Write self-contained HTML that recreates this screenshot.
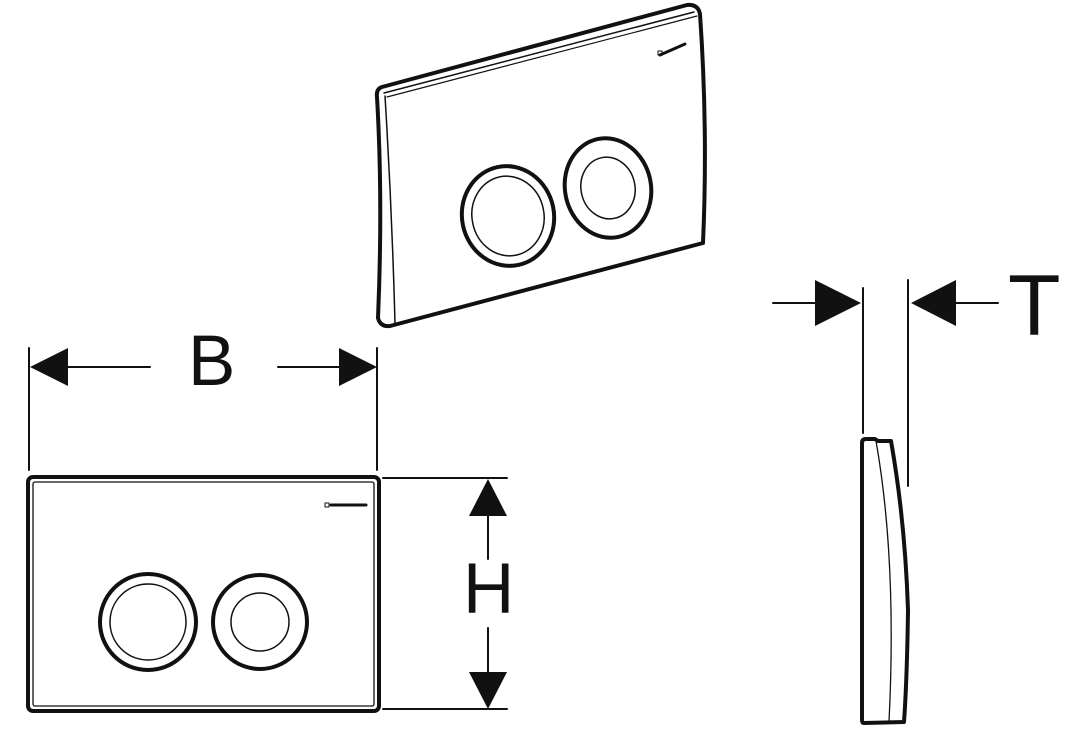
<!DOCTYPE html>
<html><head><meta charset="utf-8"><style>
html,body{margin:0;padding:0;background:#fff;}
svg{display:block;}
text{font-family:"Liberation Sans",sans-serif;fill:#111;}
</style></head><body>
<svg width="1067" height="735" viewBox="0 0 1067 735" xmlns="http://www.w3.org/2000/svg">
<g fill="none" stroke="#111" stroke-linecap="round" stroke-linejoin="round">
<!-- 3D plate -->
<path d="M382,87 L687,5 Q698,4 700,14 Q708,130 703,243 L390,326 Q380,327 378,318 Q383,200 377,97 Q376,89 382,87 Z" stroke-width="4"/>
<path d="M384,93 L694,12" stroke-width="1.5"/>
<path d="M387,97 L697,16" stroke-width="1.2"/>
<path d="M385,96 Q392,210 395,323" stroke-width="1.5"/>
<ellipse cx="508" cy="216" rx="46" ry="50" transform="rotate(-12 508 216)" stroke-width="4"/>
<ellipse cx="508" cy="216" rx="36" ry="40" transform="rotate(-12 508 216)" stroke-width="1.5"/>
<ellipse cx="608" cy="188" rx="43" ry="50" transform="rotate(-12 608 188)" stroke-width="4"/>
<ellipse cx="608" cy="188" rx="27" ry="31" transform="rotate(-12 608 188)" stroke-width="1.5"/>
<path d="M660,55 L685,44" stroke-width="3"/>
<rect x="658" y="51" width="4" height="4" stroke-width="1"/>

<!-- front plate -->
<rect x="28" y="477" width="351" height="234" rx="5" stroke-width="4"/>
<rect x="33" y="482" width="341" height="224" rx="2" stroke-width="1.3"/>
<circle cx="148" cy="622" r="48" stroke-width="4"/>
<circle cx="148" cy="622" r="38" stroke-width="1.5"/>
<circle cx="260" cy="622" r="47" stroke-width="4"/>
<circle cx="260" cy="622" r="29" stroke-width="1.5"/>
<path d="M331,505 L366,505" stroke-width="3"/>
<rect x="325" y="503" width="4" height="4" stroke-width="1"/>

<!-- B dimension -->
<path d="M29,348 V470 M377,348 V470" stroke-width="2"/>
<path d="M60,367 H150 M278,367 H345" stroke-width="2"/>
<!-- H dimension -->
<path d="M383,478 H507 M383,709 H507" stroke-width="2"/>
<path d="M488,510 V559 M488,628 V678" stroke-width="2"/>

<!-- side view -->
<path d="M863,288 V433 M908,280 V486" stroke-width="2"/>
<path d="M773,303 H820 M950,303 H998" stroke-width="2"/>
<path d="M862,443 Q862,439 866,439 L875,439 L878,441 L891,441 Q905,520 908,610 Q907,680 904,722 L864,723 Q862,723 862,720 Z" stroke-width="4"/>
<path d="M876,441 Q897,560 889,722" stroke-width="1.3"/>
</g>
<g fill="#111" stroke="none">
<path d="M30,367 L68,348 L68,386 Z"/>
<path d="M377,367 L339,348 L339,386 Z"/>
<path d="M488,479 L469,516 L507,516 Z"/>
<path d="M488,709 L469,672 L507,672 Z"/>
<path d="M861,303 L815,280 L815,326 Z"/>
<path d="M911,303 L956,280 L956,326 Z"/>
</g>
<text x="188" y="385" font-size="71">B</text>
<text x="463" y="613" font-size="71">H</text>
<text x="1008" y="335" font-size="86">T</text>
</svg>
</body></html>
